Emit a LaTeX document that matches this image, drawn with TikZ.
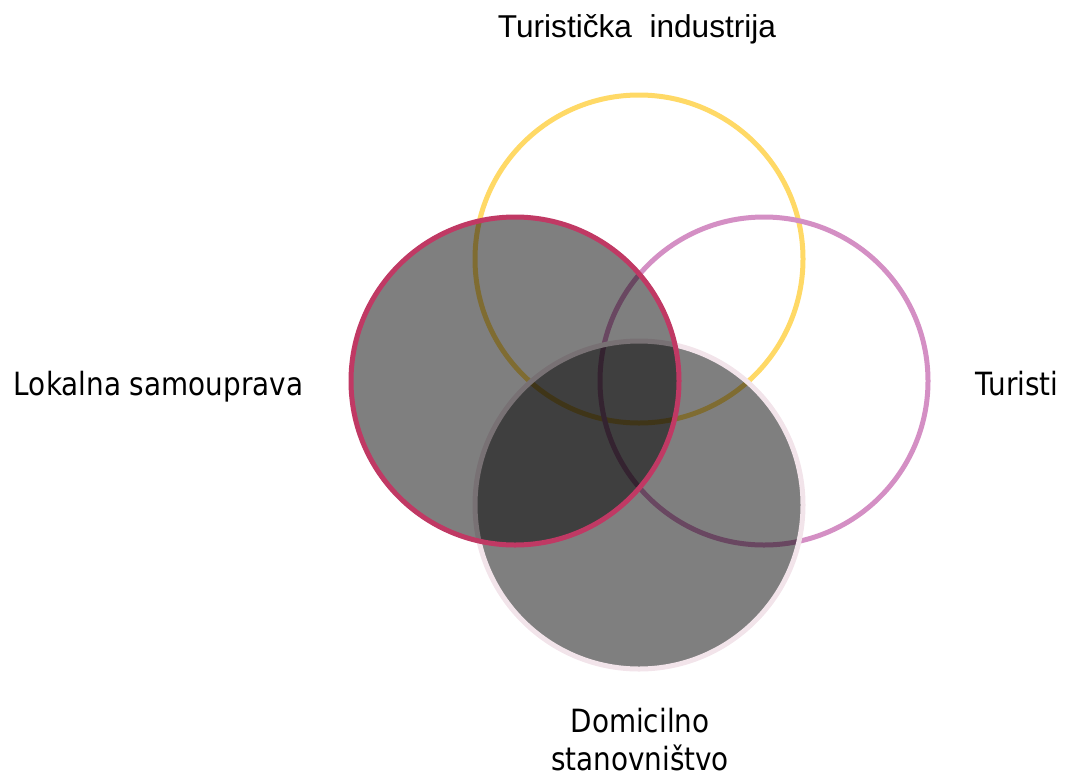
\documentclass[tikz,border=0pt]{standalone}
\usepackage{fontspec}
\setmainfont{DejaVu Sans}[FakeStretch=0.87]
\newfontfamily\arialf{Liberation Sans}
\definecolor{cyel}{RGB}{255,217,102}
\definecolor{cpink}{RGB}{212,143,196}
\definecolor{cred}{RGB}{192,57,100}
\definecolor{clight}{RGB}{242,228,234}
\begin{document}
\begin{tikzpicture}[x=1pt,y=-1pt,
  ring/.style={circle, inner sep=0pt, outer sep=0pt, minimum size=328pt, line width=5pt},
  shaded/.style={ring, fill=black, fill opacity=0.5, draw opacity=1},
  lbl/.style={font=\fontsize{32}{39}\selectfont, align=center, inner sep=0pt, anchor=base}]
\useasboundingbox (0,0) rectangle (1067,777);
\node[ring, draw=cyel] (ind) at (639,259) {};
\node[ring, draw=cpink] (tur) at (764,381) {};
\node[shaded, draw=clight] (dom) at (639,505) {};
\node[shaded, draw=cred] (lok) at (515,381) {};
\node[lbl, font=\arialf\fontsize{31.6}{40}\selectfont] (tind) at (637,37) {Turistička\ \ industrija};
\node[lbl] (tlok) at (158.5,395) {Lokalna samouprava};
\node[lbl] (ttur) at (1017,395) {Turisti};
\node[lbl, font=\fontsize{32}{38}\selectfont] (tdom) at (640,770) {Domicilno\\stanovništvo};
\end{tikzpicture}
\end{document}
